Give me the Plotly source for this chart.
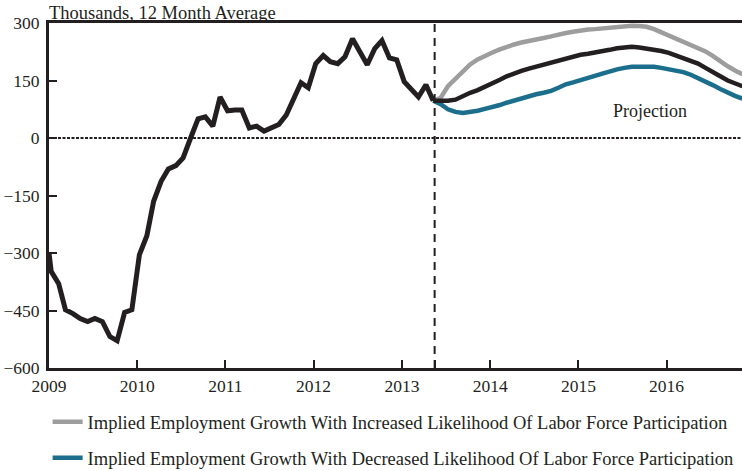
import pandas as pd
import plotly.graph_objects as go

# ---- data (thousands, 12 month average) ----
hist_first = -300  # value at the left edge (start of 2009)
hist_values = [
    -348, -380, -448, -458, -471, -479, -471, -479, -518, -529, -455, -448,          # 2009
    -305, -255, -165, -113, -81, -72, -52, 0, 50, 55, 31, 107,                       # 2010
    71, 73, 73, 26, 31, 18, 27, 35, 60, 105, 144, 131,                                # 2011
    194, 215, 199, 194, 212, 259, 228, 191, 233, 254, 209, 204,                       # 2012
    147, 128, 107, 139, 97,                                                           # Jan13..May13
]

proj_increased = [
    97, 105, 135, 155, 175, 192, 205, 215,
    223, 231, 238, 244, 249, 254, 257, 261, 265, 270, 274, 277,
    281, 283, 284, 286, 289, 291, 292, 293, 292, 290, 284, 276,
    268, 259, 251, 243, 234, 226, 214, 199, 187, 176, 166,
]
proj_baseline = [
    97, 97, 97, 100, 110, 118, 125, 133,
    141, 152, 161, 169, 175, 181, 186, 192, 198, 202, 208, 212,
    217, 220, 224, 227, 230, 234, 236, 238, 236, 234, 230, 227,
    222, 215, 207, 201, 194, 183, 171, 161, 150, 142, 135,
]
proj_decreased = [
    97, 88, 75, 68, 65, 67, 71, 76,
    80, 86, 92, 98, 104, 110, 114, 118, 123, 131, 140, 145,
    150, 157, 162, 168, 174, 179, 183, 186, 186, 186, 186, 183,
    180, 176, 172, 165, 157, 147, 138, 128, 118, 110, 103,
]

year_ticks = ["2009", "2010", "2011", "2012", "2013", "2014", "2015", "2016"]
y_ticks = [-600, -450, -300, -150, 0, 150, 300]
projection_date = "2013-05-16"

month_starts_hist = pd.date_range("2009-01-01", periods=len(hist_values), freq="MS")
hist_dates = [pd.Timestamp("2009-01-01")] + [d + pd.Timedelta(days=9) for d in month_starts_hist]
hist_y = [hist_first] + hist_values
month_starts_proj = pd.date_range("2013-05-01", periods=len(proj_baseline), freq="MS")
proj_dates = [d + pd.Timedelta(days=9) for d in month_starts_proj]

FONT = "Liberation Serif"
BLACK = "#231f20"
GRAY = "#9d9d9d"
TEAL = "#1b6f8d"

fig = go.Figure()

fig.add_trace(go.Scatter(
    x=proj_dates, y=proj_increased, mode="lines",
    line=dict(color=GRAY, width=4.5),
    name="Implied Employment Growth With Increased Likelihood Of Labor Force Participation",
    legendgroup="a",
))
fig.add_trace(go.Scatter(
    x=proj_dates, y=proj_decreased, mode="lines",
    line=dict(color=TEAL, width=4.5),
    name="Implied Employment Growth With Decreased Likelihood Of Labor Force Participation",
    legendgroup="b",
))
fig.add_trace(go.Scatter(
    x=proj_dates, y=proj_baseline, mode="lines",
    line=dict(color=BLACK, width=4.5), showlegend=False,
))
fig.add_trace(go.Scatter(
    x=hist_dates, y=hist_y, mode="lines",
    line=dict(color=BLACK, width=5), showlegend=False,
))

tickvals = [f"{y}-01-01" for y in year_ticks] + [projection_date]
ticktext = year_ticks + [""]

fig.update_layout(
    width=742, height=471,
    margin=dict(l=49, r=0, t=23, b=103, autoexpand=False),
    paper_bgcolor="white", plot_bgcolor="white",
    font=dict(family=FONT, size=17, color=BLACK),
    showlegend=True,
    legend=dict(
        orientation="v", x=-0.002, xanchor="left", y=-0.102, yanchor="top",
        font=dict(family=FONT, size=18.5, color=BLACK),
        traceorder="grouped", tracegroupgap=9,
        bgcolor="rgba(0,0,0,0)",
    ),
    xaxis=dict(
        type="date",
        range=["2009-01-01", "2016-11-08"],
        tickvals=tickvals, ticktext=ticktext,
        ticks="inside", ticklen=8, tickwidth=2, tickcolor=BLACK,
        showline=True, linewidth=3, linecolor=BLACK, mirror=True,
        showgrid=False, zeroline=False, automargin=False,
        tickfont=dict(family=FONT, size=17.5, color=BLACK),
    ),
    yaxis=dict(
        range=[-600, 300],
        tickvals=y_ticks,
        ticks="inside", ticklen=8, tickwidth=2, tickcolor=BLACK,
        showline=True, linewidth=3, linecolor=BLACK,
        showgrid=False, zeroline=False, automargin=False,
        ticklabelstandoff=3,
        tickfont=dict(family=FONT, size=17.5, color=BLACK),
    ),
    shapes=[
        dict(type="line", xref="paper", x0=0, x1=1, yref="y", y0=0, y1=0,
             line=dict(color=BLACK, width=1.8, dash="3px,1.5px"), layer="below"),
        dict(type="line", xref="x", x0=projection_date, x1=projection_date,
             yref="paper", y0=0, y1=1, line=dict(color=BLACK, width=2, dash="8px,6px")),
    ],
    annotations=[
        dict(text="Thousands, 12 Month Average", xref="paper", yref="paper",
             x=0, y=1, xanchor="left", yanchor="bottom", showarrow=False,
             font=dict(family=FONT, size=18.5, color=BLACK), yshift=-2, xshift=-2),
        dict(text="Projection", xref="x", yref="y", x="2015-10-25", y=70,
             showarrow=False, font=dict(family=FONT, size=18, color=BLACK)),
    ],
)

fig.write_html(
    "out.html",
    config={"displayModeBar": False},
    post_script="document.body.style.margin='0';document.body.style.padding='0';",
)
